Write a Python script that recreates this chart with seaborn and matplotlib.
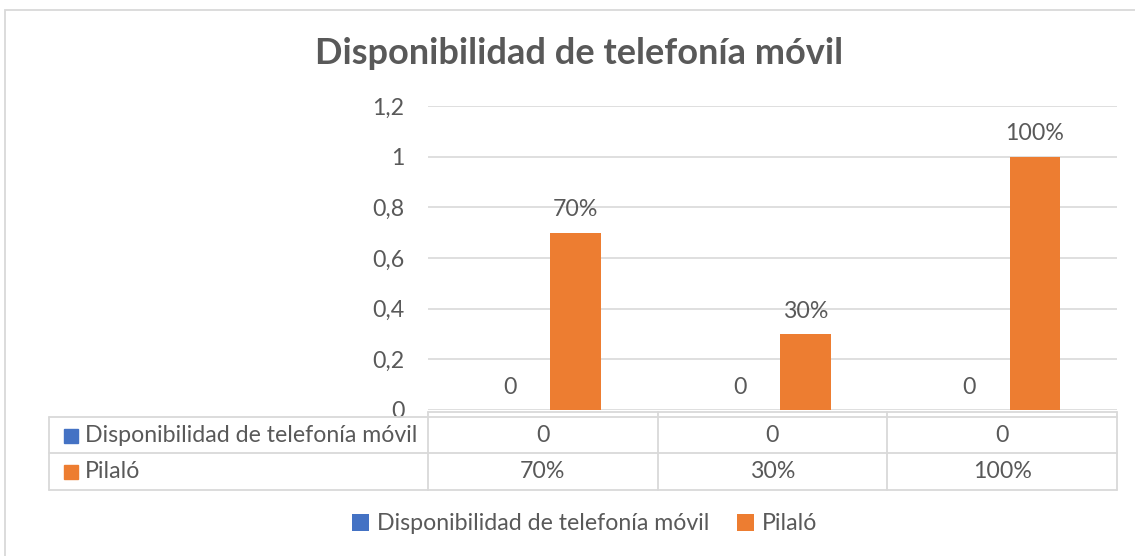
import matplotlib
matplotlib.use("Agg")
import matplotlib.pyplot as plt
import seaborn as sns
import pandas as pd
from matplotlib.lines import Line2D
from matplotlib.patches import Rectangle, Patch
from matplotlib.transforms import blended_transform_factory
from matplotlib.ticker import FuncFormatter

# --- data -------------------------------------------------------------
grupos = ["Grupo 1", "Grupo 2", "Grupo 3"]
series = ["Disponibilidad de telefonía móvil", "Pilaló"]
disponibilidad = [0, 0, 0]
pilalo = [0.70, 0.30, 1.00]
y_ticks = [0, 0.2, 0.4, 0.6, 0.8, 1.0, 1.2]
titulo = "Disponibilidad de telefonía móvil"

# --- style ------------------------------------------------------------
colores = ["#4472C4", "#ED7D31"]
gris = "#595959"
linea = "#D9D9D9"
fs = 16.7

sns.set_theme(style="white")
plt.rcParams["font.family"] = ["Lato", "DejaVu Sans"]

df = pd.DataFrame({
    "grupo": grupos * 2,
    "serie": [series[0]] * len(grupos) + [series[1]] * len(grupos),
    "valor": disponibilidad + pilalo,
})

W, H = 1135, 556
fig = plt.figure(figsize=(W / 100, H / 100), dpi=100)
fig.patch.set_facecolor("white")

def fy(px):
    return 1 - px / H

def fx(px):
    return px / W

ax = fig.add_axes([fx(428), fy(410), fx(1117) - fx(428), fy(106) - fy(410)])
sns.barplot(data=df, x="grupo", y="valor", hue="serie", order=grupos,
            hue_order=series, palette=colores, saturation=1, width=0.572,
            gap=0.224, linewidth=0, errorbar=None, legend=False, ax=ax)

ax.set_xlim(-0.5, len(grupos) - 0.5)
ax.set_ylim(0, 1.2)
ax.set_yticks(y_ticks)
ax.yaxis.set_major_formatter(FuncFormatter(lambda v, _: f"{v:g}".replace(".", ",")))
ax.set_xticks([])
ax.set_xlabel("")
ax.set_ylabel("")
ax.tick_params(axis="y", length=0, pad=17, labelsize=fs, labelcolor=gris)
ax.grid(axis="y", color=linea, linewidth=1.2)
ax.set_axisbelow(True)
for s in ax.spines.values():
    s.set_visible(False)

# value labels on the bars
ax.bar_label(ax.containers[0], labels=[f"{v:g}" for v in disponibilidad],
             padding=9, color=gris, fontsize=fs)
ax.bar_label(ax.containers[1], labels=[f"{v:.0%}" for v in pilalo],
             padding=9, color=gris, fontsize=fs)

# title
fig.text(fx(579), fy(53), titulo, ha="center", va="center", fontsize=26,
         fontweight="bold", color=gris)

# --- data table under the axis ---------------------------------------
tr = blended_transform_factory(ax.transData, fig.transFigure)
n = len(grupos)
y_top, y_rows, y_mid, y_bot = fy(412), fy(417), fy(453), fy(490)
lw = 1.3
# horizontal rules
fig.add_artist(Line2D([-0.5, n - 0.5], [y_top, y_top], transform=tr, color=linea, lw=lw))
for yy in (y_rows, y_mid, y_bot):
    fig.add_artist(Line2D([fx(49), fx(428)], [yy, yy], transform=fig.transFigure, color=linea, lw=lw))
    fig.add_artist(Line2D([-0.5, n - 0.5], [yy, yy], transform=tr, color=linea, lw=lw))
# vertical rules
fig.add_artist(Line2D([fx(49), fx(49)], [y_rows, y_bot], transform=fig.transFigure, color=linea, lw=lw))
for i in range(n + 1):
    fig.add_artist(Line2D([i - 0.5, i - 0.5], [y_top, y_bot], transform=tr, color=linea, lw=lw))

filas = [
    (series[0], colores[0], [f"{v:g}" for v in disponibilidad], fy(435.5)),
    (series[1], colores[1], [f"{v:.0%}" for v in pilalo], fy(472)),
]
for nombre, color, textos, yy in filas:
    fig.add_artist(Line2D([fx(71)], [yy], marker="s", markersize=10, color=color,
                          linestyle="none", transform=fig.transFigure))
    fig.text(fx(85), yy, nombre, ha="left", va="center", fontsize=fs, color=gris)
    for i, t in enumerate(textos):
        fig.text(i, yy, t, transform=tr, ha="center", va="center", fontsize=fs, color=gris)

# legend
handles = [Patch(facecolor=c, edgecolor="none") for c in colores]
fig.legend(handles, series, loc="center", bbox_to_anchor=(fx(585), fy(524)),
           ncol=2, frameon=False, fontsize=fs, labelcolor=gris,
           handlelength=0.72, handleheight=0.72, handletextpad=0.35,
           columnspacing=1.2)

# chart frame
fig.add_artist(Rectangle((fx(5), -0.05), 1.2, fy(10) + 0.05, transform=fig.transFigure,
                         fill=False, edgecolor=linea, linewidth=1.3))

fig.savefig("out.png", dpi=100)
